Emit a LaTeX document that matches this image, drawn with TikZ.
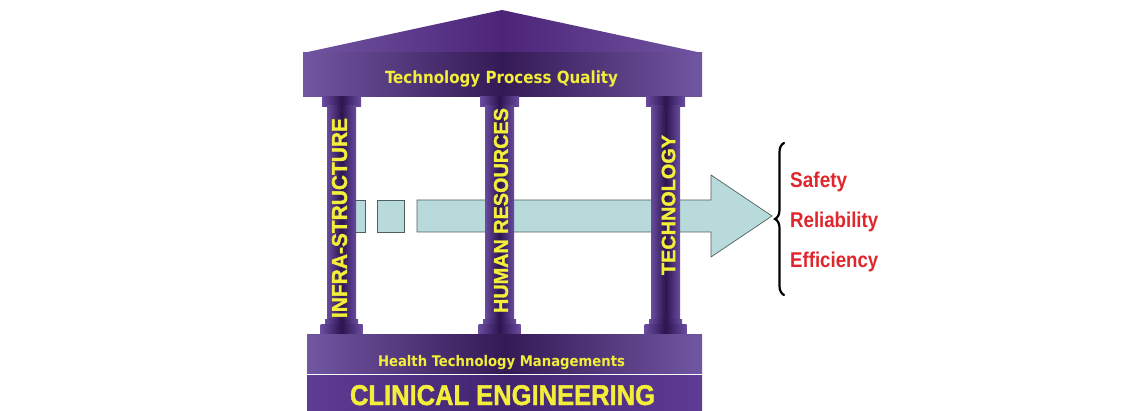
\documentclass[tikz,border=0pt]{standalone}
\usepackage{fontspec}
\setmainfont{Liberation Sans}
\newfontfamily\tahoma{DejaVu Sans Condensed}
\newfontfamily\heavy{Liberation Sans Bold}[FakeBold=1.6]
\usetikzlibrary{decorations.pathreplacing}
\definecolor{pedge}{HTML}{7156A2}
\definecolor{pdark}{HTML}{341A55}
\definecolor{proof}{HTML}{4C2478}
\definecolor{pcol}{HTML}{6A4CA0}
\definecolor{pcoldark}{HTML}{2C1550}
\definecolor{pband}{HTML}{5E3C94}
\definecolor{pbanddark}{HTML}{422470}
\definecolor{ytxt}{HTML}{F2EE3A}
\definecolor{arrfill}{HTML}{B8DADB}
\definecolor{arrline}{HTML}{4F5F60}
\definecolor{redtxt}{HTML}{E0262C}
\tikzset{
  beam/.style={left color=pedge, right color=pedge, middle color=pdark, draw=none},
  roof/.style={left color=pedge, right color=pedge, middle color=proof, draw=none},
  colpart/.style={left color=pcol, right color=pcol, middle color=pcoldark, draw=none},
  band/.style={left color=pband, right color=pband, middle color=pbanddark, draw=none},
  arrowbody/.style={fill=arrfill, draw=arrline, line width=0.7pt},
  ylabel/.style={text=ytxt, inner sep=0pt, font=\bfseries},
  rlabel/.style={text=redtxt, inner sep=0pt, font=\bfseries, anchor=base west},
}
\newcommand{\pillar}[2]{% center x, name
  \path[colpart] (#1-19.5,97) rectangle (#1+19.5,107);
  \path[colpart] (#1-14.5,106) rectangle (#1+14.5,321);
  \path[colpart] (#1-16.5,320) rectangle (#1+16.5,326);
  \path[colpart] (#1-21,325) rectangle (#1+21,335);
  \coordinate (#2) at (#1,216);
}
\begin{document}
\begin{tikzpicture}[x=1pt,y=-1pt]
\useasboundingbox (0,0) rectangle (1145,411);
% roof and top beam
\path[roof] (303,53) -- (502,10) -- (702,53) -- cycle;
\path[beam] (303,52.5) rectangle (702,97);
% arrow (behind the pillars)
\draw[arrowbody] (350,200) rectangle (365,232);
\draw[arrowbody] (377,200) rectangle (404,232);
\draw[arrowbody] (417,200) -- (711,200) -- (711,175) -- (772,216) -- (711,257) -- (711,232) -- (417,232) -- cycle;
\coordinate (tip) at (772,216);
% pillars
\pillar{341.5}{p1}
\pillar{499.5}{p2}
\pillar{665.5}{p3}
% bottom beams
\path[beam] (307,335) rectangle (702,373);
\path[band] (307,375) rectangle (702,411);
% texts
\node[ylabel, anchor=base] (tpq) at (501.5,84) {\resizebox{233pt}{!}{\tahoma\bfseries Technology Process Quality}};
\node[ylabel, anchor=base] (htm) at (501.5,366) {\resizebox{247pt}{!}{\tahoma\bfseries Health Technology Managements}};
\node[ylabel, anchor=base] (ce) at (502.5,405) {\resizebox{305pt}{20pt}{\heavy CLINICAL ENGINEERING}};
\node[ylabel, rotate=90] (infra) at (339.5,218) {\resizebox{200pt}{15pt}{\heavy INFRA-STRUCTURE}};
\node[ylabel, rotate=90] (human) at (501,210.5) {\resizebox{205pt}{14pt}{\heavy HUMAN RESOURCES}};
\node[ylabel, rotate=90] (tech) at (668.5,205) {\resizebox{140pt}{13.5pt}{\heavy TECHNOLOGY}};
% brace
\coordinate (bbot) at (784,295);
\coordinate (btop) at (784,143);
\draw[decorate, decoration={brace, amplitude=9pt}, line width=2.2pt, line cap=round] (bbot) -- (btop);
% outcomes
\node[rlabel] (safety) at (790,188) {\resizebox{57pt}{15.5pt}{Safety}};
\node[rlabel] (rel) at (790,228) {\resizebox{88pt}{15.5pt}{Reliability}};
\node[rlabel] (eff) at (790,268) {\resizebox{88pt}{15.5pt}{Efficiency}};
\end{tikzpicture}
\end{document}
